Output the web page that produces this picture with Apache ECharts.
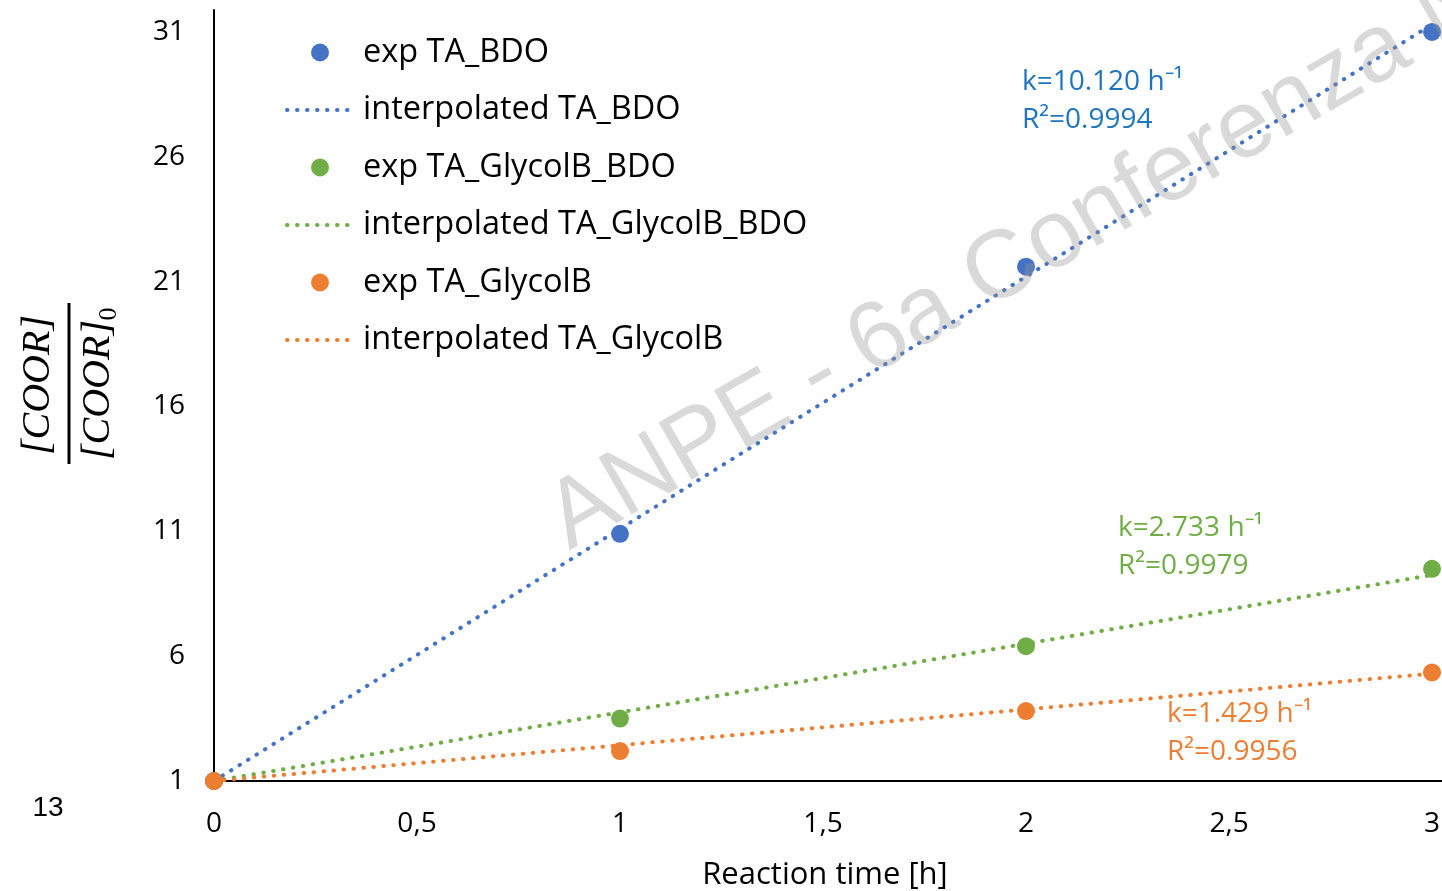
<!DOCTYPE html>
<html><head><meta charset="utf-8">
<script src="https://cdn.jsdelivr.net/npm/echarts@6/dist/echarts.min.js"></script>
<style>html,body{margin:0;padding:0;background:#fff}#c{width:1442px;height:891px}</style>
</head><body><div id="c"></div>
<script>
// ---- data ----
const times = [0, 1, 2, 3];
const expBDO = [1, 10.9, 21.6, 31.0];
const expGlycolBBDO = [1, 3.5, 6.4, 9.5];
const expGlycolB = [1, 2.2, 3.8, 5.35];
const fitTimes = [0, 3];
const fitBDO = [1, 31.3];
const fitGlycolBBDO = [1, 9.25];
const fitGlycolB = [1, 5.3];
const seriesNames = ['exp TA_BDO', 'interpolated TA_BDO', 'exp TA_GlycolB_BDO',
  'interpolated TA_GlycolB_BDO', 'exp TA_GlycolB', 'interpolated TA_GlycolB'];
const fitTextBDO = ['k=10.120 h\u207B\u00B9', 'R\u00B2=0.9994'];
const fitTextGlycolBBDO = ['k=2.733 h\u207B\u00B9', 'R\u00B2=0.9979'];
const fitTextGlycolB = ['k=1.429 h\u207B\u00B9', 'R\u00B2=0.9956'];
const xTickLabels = ['0', '0,5', '1', '1,5', '2', '2,5', '3'];
const yTickLabels = ['1', '6', '11', '16', '21', '26', '31'];
const xTitle = 'Reaction time [h]';
const yTitleTop = '[COOR]';
const yTitleBottom = '[COOR]';
const yTitleSub = '0';
const pageNumber = '13';
const watermark = 'ANPE - 6a Conferenza N';

const BLUE = '#4472C4', GREEN = '#70AD47', ORANGE = '#ED7D31';
const FONT = '"Open Sans"';
const DOTS = { width: 4, type: [0.5, 9.5], cap: 'round' };

const pairs = (xs, ys) => xs.map((x, i) => [x, ys[i]]);

function scatter(name, ys, color) {
  return { name, type: 'scatter', data: pairs(times, ys), symbol: 'circle', symbolSize: 18,
    itemStyle: { color, opacity: 1 }, z: 4 };
}
function fit(name, ys, color) {
  return { name, type: 'line', data: pairs(fitTimes, ys), symbol: 'none', showSymbol: false,
    lineStyle: Object.assign({ color }, DOTS), itemStyle: { color }, z: 2 };
}

const chart = echarts.init(document.getElementById('c'), null, { renderer: 'canvas' });
const axisCommon = {
  axisLine: { show: true, lineStyle: { color: '#000', width: 2 } },
  axisTick: { show: false },
  splitLine: { show: false },
};
function annot(lines, x, y, color) {
  return lines.map((t, i) => ({
    type: 'text', x: x, y: y + i * 38, z: 10,
    style: { text: t, fill: color, font: '28px ' + FONT, align: 'left', verticalAlign: 'middle' }
  }));
}

chart.setOption({
  animation: false,
  backgroundColor: '#fff',
  grid: { left: 214, right: 0, top: 10, bottom: 110, containLabel: false, outerBoundsMode: 'none' },
  xAxis: Object.assign({
    type: 'value', min: 0, max: 3.0246, interval: 0.5,
    name: xTitle, nameLocation: 'middle', nameGap: 79,
    nameTextStyle: { fontSize: 31, fontFamily: FONT, color: '#000', padding: [0, 6, 0, 0] },
    axisLabel: { fontSize: 28, fontFamily: FONT, color: '#000', margin: 29,
      formatter: v => { const i = Math.round(v * 2); return (Math.abs(v * 2 - i) < 1e-6 && i < xTickLabels.length) ? xTickLabels[i] : ''; } }
  }, axisCommon),
  yAxis: Object.assign({
    type: 'value', min: 1, max: 31.88, interval: 5,
    axisLabel: { fontSize: 28, fontFamily: FONT, color: '#000', margin: 29, padding: [9, 0, 0, 0],
      formatter: v => { const i = Math.round((v - 1) / 5); return (Math.abs((v - 1) / 5 - i) < 1e-6 && i < yTickLabels.length) ? yTickLabels[i] : ''; } }
  }, axisCommon),
  legend: {
    orient: 'vertical', left: 285, top: 36, itemWidth: 66, itemHeight: 18, itemGap: 24.5, padding: 0,
    data: seriesNames.map((n, i) => i % 2 === 1
      ? { name: n, itemStyle: { opacity: 0 }, lineStyle: Object.assign({}, DOTS) }
      : { name: n }),
    textStyle: { fontSize: 32.5, fontFamily: FONT, color: '#000', padding: [0, 0, 0, 5] }
  },
  series: [
    fit(seriesNames[1], fitBDO, BLUE),
    fit(seriesNames[3], fitGlycolBBDO, GREEN),
    fit(seriesNames[5], fitGlycolB, ORANGE),
    scatter(seriesNames[0], expBDO, BLUE),
    scatter(seriesNames[2], expGlycolBBDO, GREEN),
    scatter(seriesNames[4], expGlycolB, ORANGE),
  ],
  graphic: [
    ...annot(fitTextBDO, 1022, 82, '#1F74C0'),
    ...annot(fitTextGlycolBBDO, 1118, 528, GREEN),
    ...annot(fitTextGlycolB, 1167, 714, ORANGE),
    { type: 'text', x: 48, y: 808, z: 10,
      style: { text: pageNumber, fill: '#000', font: '28px "Liberation Sans"', align: 'center', verticalAlign: 'middle' } },
    { type: 'group', x: 69, y: 383, rotation: Math.PI / 2, z: 10, children: [
      { type: 'text', style: { text: yTitleTop, x: -2, y: -31, fill: '#000', font: 'italic 40px "Liberation Serif"', align: 'center', verticalAlign: 'middle' } },
      { type: 'line', shape: { x1: -81, y1: 0, x2: 80, y2: 0 }, style: { stroke: '#000', lineWidth: 3 } },
      { type: 'text', style: { text: yTitleBottom, x: -7, y: 29, fill: '#000', font: 'italic 40px "Liberation Serif"', align: 'center', verticalAlign: 'middle' } },
      { type: 'text', style: { text: yTitleSub, x: 69, y: 40, fill: '#000', font: '26px "Liberation Serif"', align: 'center', verticalAlign: 'middle' } }
    ] },
    { type: 'text', x: 573, y: 557, rotation: Math.PI / 6, z: 100, silent: true,
      style: { text: watermark, x: 0, y: -34, fill: 'rgba(150,150,150,0.36)', font: '96px "Liberation Sans"', align: 'left', verticalAlign: 'middle' } }
  ]
});
</script>
</body></html>
